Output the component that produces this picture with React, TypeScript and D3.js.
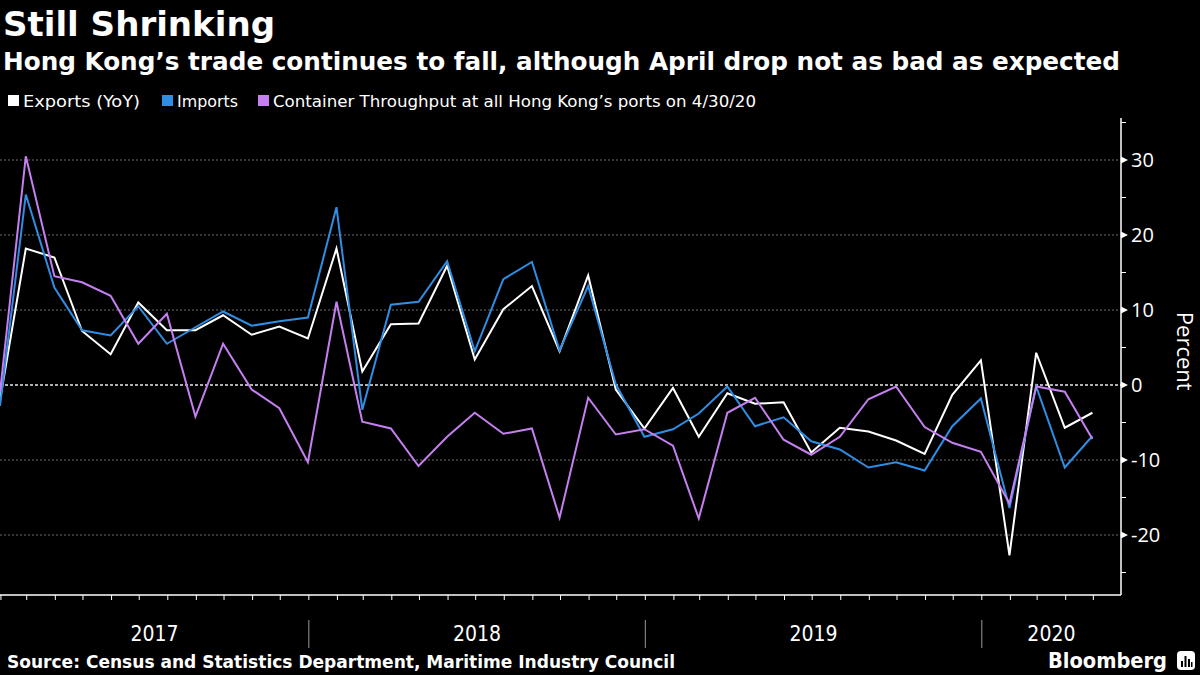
import React from "react";
import * as d3 from "d3";

const months: string[] = [
  "2017-01","2017-02","2017-03","2017-04","2017-05","2017-06","2017-07","2017-08","2017-09","2017-10","2017-11","2017-12",
  "2018-01","2018-02","2018-03","2018-04","2018-05","2018-06","2018-07","2018-08","2018-09","2018-10","2018-11","2018-12",
  "2019-01","2019-02","2019-03","2019-04","2019-05","2019-06","2019-07","2019-08","2019-09","2019-10","2019-11","2019-12",
  "2020-01","2020-02","2020-03","2020-04",
];

const exportsYoY: number[] = [
  -2.0, 18.2, 17.0, 7.2, 4.1, 11.0, 7.3, 7.3, 9.3, 6.7, 7.8, 6.2,
  18.2, 1.8, 8.1, 8.2, 15.9, 3.4, 10.1, 13.2, 4.5, 14.6, -0.6, -5.8,
  -0.4, -6.9, -1.1, -2.5, -2.3, -9.0, -5.7, -6.2, -7.4, -9.2, -1.3, 3.3,
  -22.7, 4.3, -5.7, -3.7,
];

const importsYoY: number[] = [
  -2.8, 25.4, 13.0, 7.3, 6.6, 10.5, 5.5, 7.7, 9.8, 7.9, 8.5, 9.0,
  23.7, -3.3, 10.7, 11.1, 16.5, 4.5, 14.1, 16.4, 4.6, 13.2, 0.1, -6.9,
  -5.9, -3.8, -0.2, -5.5, -4.3, -7.5, -8.6, -11.0, -10.3, -11.4, -5.5, -1.8,
  -16.4, -0.2, -11.0, -6.8,
];

const containerYoY: number[] = [
  -1.0, 30.5, 14.5, 13.7, 11.9, 5.5, 9.5, -4.2, 5.5, -0.6, -3.1, -10.3,
  11.1, -4.9, -5.8, -10.8, -6.9, -3.7, -6.5, -5.8, -17.7, -1.7, -6.6, -5.9,
  -8.1, -17.8, -3.7, -1.7, -7.3, -9.3, -6.9, -1.9, -0.2, -5.6, -7.7, -8.9,
  -15.8, -0.2, -0.9, -7.2,
];

const seriesNames: string[] = [
  "Exports (YoY)",
  "Imports",
  "Container Throughput at all Hong Kong\u2019s ports on 4/30/20",
];
const seriesColors: string[] = ["#ffffff", "#2f8de4", "#c57ff0"];

const yearLabels: string[] = ["2017", "2018", "2019", "2020"];
const yMajorTicks: number[] = [-20, -10, 0, 10, 20, 30];
const yMinorTicks: number[] = [-25, -15, -5, 5, 15, 25, 35];

const title = "Still Shrinking";
const subtitle = "Hong Kong\u2019s trade continues to fall, although April drop not as bad as expected";
const source = "Source: Census and Statistics Department, Maritime Industry Council";

const W = 1200;
const H = 675;
const plotL = 0;
const plotR = 1121;
const plotT = 118;
const plotB = 595;

const monthEnd = (s: string) => {
  const [yy, mm] = s.split("-").map(Number);
  return new Date(Date.UTC(yy, mm, 0));
};

export default function App() {
  const dates = months.map(monthEnd);
  const x = d3
    .scaleUtc()
    .domain([new Date(Date.UTC(2017, 0, 31)), new Date(Date.UTC(2020, 4, 31))])
    .range([plotL, plotR]);
  const y = d3.scaleLinear().domain([-28, 35.6]).range([plotB, plotT]);

  const allSeries = [exportsYoY, importsYoY, containerYoY];
  const line = d3
    .line<number>()
    .x((_, i) => x(dates[i]))
    .y((d) => y(d));

  const monthTicks = d3.utcMonth.range(new Date(Date.UTC(2017, 1, 1)), new Date(Date.UTC(2020, 5, 1)));

  const yearBands = yearLabels.map((lab) => {
    const yr = +lab;
    const s = Math.max(x(new Date(Date.UTC(yr, 0, 1))), plotL);
    const e = Math.min(x(new Date(Date.UTC(yr + 1, 0, 1))), plotR);
    return { lab, s, e, sep: x(new Date(Date.UTC(yr, 0, 1))) };
  });

  const legendX = [8, 162, 258];
  const legendW = [117, 61, 483];

  return (
    <svg
      width={W}
      height={H}
      style={{ position: "absolute", left: 0, top: 0, background: "#000" }}
    >
      <rect x={0} y={0} width={W} height={H} fill="#000" />
      <text
        x={3}
        y={36}
        fill="#fff"
        fontFamily="'DejaVu Sans Condensed', 'DejaVu Sans', sans-serif"
        fontWeight="bold"
        fontSize={33}
        textLength={272}
        lengthAdjust="spacingAndGlyphs"
      >
        {title}
      </text>
      <text
        x={3}
        y={70}
        fill="#fff"
        fontFamily="'DejaVu Sans Condensed', 'DejaVu Sans', sans-serif"
        fontWeight="bold"
        fontSize={24}
        textLength={1117}
        lengthAdjust="spacingAndGlyphs"
      >
        {subtitle}
      </text>

      {seriesNames.map((n, i) => (
        <g key={n}>
          <rect x={legendX[i]} y={95} width={11} height={11} fill={seriesColors[i]} />
          <text
            x={legendX[i] + 15}
            y={107}
            fill="#fff"
            fontFamily="'DejaVu Sans Condensed', 'DejaVu Sans', sans-serif"
            fontSize={16}
            textLength={legendW[i]}
            lengthAdjust="spacingAndGlyphs"
          >
            {n}
          </text>
        </g>
      ))}

      {/* gridlines */}
      {yMajorTicks.map((t) => (
        <line
          key={"g" + t}
          x1={plotL}
          x2={plotR}
          y1={y(t)}
          y2={y(t)}
          stroke={t === 0 ? "#b0b0b0" : "#6e6e6e"}
          strokeWidth={t === 0 ? 2 : 1}
          strokeDasharray={t === 0 ? "3,2" : "2,2"}
        />
      ))}

      {/* lines */}
      {allSeries.map((s, i) => (
        <path
          key={"s" + i}
          d={line(s) || ""}
          fill="none"
          stroke={seriesColors[i]}
          strokeWidth={2}
          strokeLinejoin="miter"
        />
      ))}

      {/* right axis */}
      <line x1={plotR} x2={plotR} y1={plotT} y2={plotB} stroke="#fff" strokeWidth={1.5} />
      {yMinorTicks.map((t) => (
        <line key={"mt" + t} x1={plotR} x2={plotR + 5} y1={y(t)} y2={y(t)} stroke="#fff" strokeWidth={1} />
      ))}
      {yMajorTicks.map((t) => (
        <g key={"yt" + t}>
          <path
            d={`M${plotR},${y(t) - 3.5}L${plotR + 7},${y(t)}L${plotR},${y(t) + 3.5}Z`}
            fill="#fff"
          />
          <text
            x={plotR + 10}
            y={y(t) + 7}
            fill="#fff"
            fontFamily="'Open Sans', sans-serif"
            fontSize={20}
          >
            {t < 0 ? "-" + Math.abs(t) : String(t)}
          </text>
        </g>
      ))}
      <text
        transform={`translate(1177,${y(4.5)}) rotate(90)`}
        textAnchor="middle"
        fill="#fff"
        fontFamily="'Open Sans', sans-serif"
        fontSize={22}
      >
        Percent
      </text>

      {/* x axis */}
      <line x1={plotL} x2={plotR} y1={plotB} y2={plotB} stroke="#fff" strokeWidth={1.5} />
      {monthTicks.map((d, i) => (
        <line key={"xt" + i} x1={x(d)} x2={x(d)} y1={plotB} y2={plotB + 5} stroke="#fff" strokeWidth={1} />
      ))}
      {yearBands.map((b, i) => (
        <g key={b.lab}>
          {i > 0 && <line x1={b.sep} x2={b.sep} y1={620} y2={648} stroke="#9a9a9a" strokeWidth={1} />}
          <text
            x={(b.s + b.e) / 2}
            y={641}
            textAnchor="middle"
            fill="#fff"
            fontFamily="'DejaVu Sans Condensed', 'DejaVu Sans', sans-serif"
            fontSize={21}
          >
            {b.lab}
          </text>
        </g>
      ))}

      <text
        x={7}
        y={668}
        fill="#fff"
        fontFamily="'DejaVu Sans Condensed', 'DejaVu Sans', sans-serif"
        fontWeight="bold"
        fontSize={17}
        textLength={668}
        lengthAdjust="spacingAndGlyphs"
      >
        {source}
      </text>
      <text
        x={1048}
        y={668}
        fill="#fff"
        fontFamily="'DejaVu Sans Condensed', 'DejaVu Sans', sans-serif"
        fontWeight="bold"
        fontSize={21}
        textLength={119}
        lengthAdjust="spacingAndGlyphs"
      >
        Bloomberg
      </text>
      <rect x={1177} y={651} width={18} height={19} rx={4} fill="#fff" />
      <rect x={1181} y={661} width={2} height={6} fill="#000" />
      <rect x={1184.5} y={656} width={2} height={11} fill="#000" />
      <rect x={1188} y={659} width={2} height={8} fill="#000" />
      <rect x={1191} y={662} width={1.5} height={5} fill="#000" />
    </svg>
  );
}
